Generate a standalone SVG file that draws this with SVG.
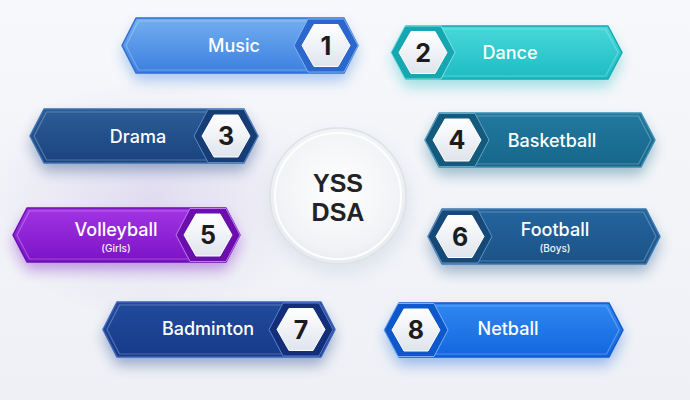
<svg xmlns="http://www.w3.org/2000/svg" width="690" height="400" viewBox="0 0 690 400">
<defs>
<style>
.lbl{font-family:Inter,"Liberation Sans",Arial,sans-serif;font-size:18px;font-weight:500;fill:#ffffff;text-anchor:middle}
.sub{font-family:Inter,"Liberation Sans",Arial,sans-serif;font-size:10px;font-weight:500;fill:#f2f2f8;text-anchor:middle}
.num{font-family:Inter,"Liberation Sans",Arial,sans-serif;font-size:25px;font-weight:700;fill:#1c1c1f;text-anchor:middle}
.ctr{font-family:"Liberation Sans",Arial,sans-serif;font-size:25px;font-weight:700;fill:#222326;text-anchor:middle}
.rim{fill:none;stroke:#ffffff;stroke-opacity:0.25;stroke-width:1.2;stroke-linejoin:round}
.shadow{filter:url(#blur);opacity:0.4}
.wh{fill:url(#gW);stroke:#ffffff;stroke-width:1;stroke-linejoin:round}
</style>
<filter id="blur" x="-30%" y="-60%" width="160%" height="220%"><feGaussianBlur stdDeviation="7"/></filter>
<filter id="blurC" x="-40%" y="-40%" width="180%" height="180%"><feGaussianBlur stdDeviation="8"/></filter>
<linearGradient id="bg" x1="0" y1="0" x2="0" y2="1"><stop offset="0" stop-color="#f7f8fb"/><stop offset="1" stop-color="#eef0f5"/></linearGradient>
<radialGradient id="lav" cx="0.5" cy="0.5" r="0.5"><stop offset="0" stop-color="#dcd6ee" stop-opacity="0.8"/><stop offset="1" stop-color="#dcd6ee" stop-opacity="0"/></radialGradient>
<linearGradient id="gW" x1="0" y1="0" x2="0" y2="1"><stop offset="0" stop-color="#ffffff"/><stop offset="1" stop-color="#dfe4ec"/></linearGradient>
<linearGradient id="g1" x1="0" y1="0" x2="0" y2="1"><stop offset="0" stop-color="#74aef0"/><stop offset="1" stop-color="#3b80e0"/></linearGradient>
<linearGradient id="g2" x1="0" y1="0" x2="0" y2="1"><stop offset="0" stop-color="#48d8da"/><stop offset="1" stop-color="#1cbcc3"/></linearGradient>
<linearGradient id="g3" x1="0" y1="0" x2="0" y2="1"><stop offset="0" stop-color="#2c5c96"/><stop offset="1" stop-color="#1a447f"/></linearGradient>
<linearGradient id="g4" x1="0" y1="0" x2="0" y2="1"><stop offset="0" stop-color="#22799f"/><stop offset="1" stop-color="#16668a"/></linearGradient>
<linearGradient id="g5" x1="0" y1="0" x2="0" y2="1"><stop offset="0" stop-color="#a235e4"/><stop offset="1" stop-color="#7a12c6"/></linearGradient>
<linearGradient id="g6" x1="0" y1="0" x2="0" y2="1"><stop offset="0" stop-color="#25649e"/><stop offset="1" stop-color="#1a5387"/></linearGradient>
<linearGradient id="g7" x1="0" y1="0" x2="0" y2="1"><stop offset="0" stop-color="#224b9c"/><stop offset="1" stop-color="#163a8a"/></linearGradient>
<linearGradient id="g8" x1="0" y1="0" x2="0" y2="1"><stop offset="0" stop-color="#3088f0"/><stop offset="1" stop-color="#1266de"/></linearGradient>
<radialGradient id="gC" cx="0.5" cy="0.45" r="0.55"><stop offset="0" stop-color="#ffffff"/><stop offset="0.8" stop-color="#f2f3f6"/><stop offset="1" stop-color="#e6e9ef"/></radialGradient>
<path id="hexR" d="M-32,0 L-18,-26.5 L18,-26.5 L32,0 L18,26.5 L-18,26.5 Z"/>
<path id="hexW" d="M-24,0 L-12,-21 L12,-21 L24,0 L12,21 L-12,21 Z"/>
</defs>

<rect width="690" height="400" fill="url(#bg)"/>
<ellipse cx="150" cy="200" rx="170" ry="120" fill="url(#lav)"/>

<g id="center">
<circle cx="340" cy="204" r="70" fill="#c9d0dc" opacity="0.45" filter="url(#blurC)"/>
<circle cx="338" cy="196" r="68" fill="url(#gC)" stroke="#dde1e8" stroke-width="1.5"/>
<circle cx="338" cy="196" r="63" fill="none" stroke="#ffffff" stroke-width="2" opacity="0.9"/>
<text class="ctr" x="338" y="192">YSS</text>
<text class="ctr" x="338" y="221">DSA</text>
</g>

<g id="node-1">
<path class="shadow" fill="#3b80e0" transform="translate(0,8)" d="M122,45.5 L136,18 L344,18 L358,45.5 L344,73 L136,73Z"/>
<path fill="url(#g1)" stroke="#2e6fd2" stroke-width="1.5" stroke-linejoin="round" d="M122,45.5 L136,18 L344,18 L358,45.5 L344,73 L136,73Z"/>
<path class="rim" d="M126,45.5 L138.5,21 L341.5,21 L354,45.5 L341.5,70 L138.5,70Z"/>
<use href="#hexR" x="326" y="45.5" fill="#2b67cc" stroke="#7fb3f2" stroke-width="1"/>
<use href="#hexW" x="326" y="45.5" class="wh"/>
<text class="num" x="326" y="54.5">1</text>
<text class="lbl" x="234" y="52">Music</text>
</g>

<g id="node-2">
<path class="shadow" fill="#1cbcc3" transform="translate(0,8)" d="M392,52.5 L406,26 L608,26 L622,52.5 L608,79 L406,79Z"/>
<path fill="url(#g2)" stroke="#17a9b1" stroke-width="1.5" stroke-linejoin="round" d="M392,52.5 L406,26 L608,26 L622,52.5 L608,79 L406,79Z"/>
<path class="rim" d="M396,52.5 L408.5,29 L605.5,29 L618,52.5 L605.5,76 L408.5,76Z"/>
<use href="#hexR" x="423" y="52.5" fill="#16a7b0" stroke="#7fe3e6" stroke-width="1"/>
<use href="#hexW" x="423" y="52.5" class="wh"/>
<text class="num" x="423" y="61.5">2</text>
<text class="lbl" x="510" y="59">Dance</text>
</g>

<g id="node-3">
<path class="shadow" fill="#1a447f" transform="translate(0,8)" d="M30,136 L44,109 L244,109 L258,136 L244,163 L44,163Z"/>
<path fill="url(#g3)" stroke="#3a6fb0" stroke-width="1.5" stroke-linejoin="round" d="M30,136 L44,109 L244,109 L258,136 L244,163 L44,163Z"/>
<path class="rim" d="M34,136 L46.5,112 L241.5,112 L254,136 L241.5,160 L46.5,160Z"/>
<use href="#hexR" x="226" y="136" fill="#163d76" stroke="#5b88c2" stroke-width="1"/>
<use href="#hexW" x="226" y="136" class="wh"/>
<text class="num" x="226" y="145">3</text>
<text class="lbl" x="138" y="142.5">Drama</text>
</g>

<g id="node-4">
<path class="shadow" fill="#16668a" transform="translate(0,8)" d="M425,140 L439,113 L641,113 L655,140 L641,167 L439,167Z"/>
<path fill="url(#g4)" stroke="#3b8fb3" stroke-width="1.5" stroke-linejoin="round" d="M425,140 L439,113 L641,113 L655,140 L641,167 L439,167Z"/>
<path class="rim" d="M429,140 L441.5,116 L638.5,116 L651,140 L638.5,164 L441.5,164Z"/>
<use href="#hexR" x="457" y="140" fill="#135a7c" stroke="#62a6c4" stroke-width="1"/>
<use href="#hexW" x="457" y="140" class="wh"/>
<text class="num" x="457" y="149">4</text>
<text class="lbl" x="552" y="146.5">Basketball</text>
</g>

<g id="node-5">
<path class="shadow" fill="#7a12c6" transform="translate(0,8)" d="M13,235 L27,208 L226,208 L240,235 L226,262 L27,262Z"/>
<path fill="url(#g5)" stroke="#6a0fb0" stroke-width="1.5" stroke-linejoin="round" d="M13,235 L27,208 L226,208 L240,235 L226,262 L27,262Z"/>
<path class="rim" d="M17,235 L29.5,211 L223.5,211 L236,235 L223.5,259 L29.5,259Z"/>
<use href="#hexR" x="208" y="235" fill="#6a0eae" stroke="#c07bef" stroke-width="1"/>
<use href="#hexW" x="208" y="235" class="wh"/>
<text class="num" x="208" y="244">5</text>
<text class="lbl" x="116" y="236">Volleyball</text>
<text class="sub" x="116" y="252">(Girls)</text>
</g>

<g id="node-6">
<path class="shadow" fill="#1a5387" transform="translate(0,8)" d="M428,236.5 L442,209 L646,209 L660,236.5 L646,264 L442,264Z"/>
<path fill="url(#g6)" stroke="#3a78b0" stroke-width="1.5" stroke-linejoin="round" d="M428,236.5 L442,209 L646,209 L660,236.5 L646,264 L442,264Z"/>
<path class="rim" d="M432,236.5 L444.5,212 L643.5,212 L656,236.5 L643.5,261 L444.5,261Z"/>
<use href="#hexR" x="460" y="236.5" fill="#164878" stroke="#5f95c6" stroke-width="1"/>
<use href="#hexW" x="460" y="236.5" class="wh"/>
<text class="num" x="460" y="245.5">6</text>
<text class="lbl" x="555" y="236">Football</text>
<text class="sub" x="555" y="252">(Boys)</text>
</g>

<g id="node-7">
<path class="shadow" fill="#163a8a" transform="translate(0,8)" d="M103,329.5 L117,302 L321,302 L335,329.5 L321,357 L117,357Z"/>
<path fill="url(#g7)" stroke="#3a63b8" stroke-width="1.5" stroke-linejoin="round" d="M103,329.5 L117,302 L321,302 L335,329.5 L321,357 L117,357Z"/>
<path class="rim" d="M107,329.5 L119.5,305 L318.5,305 L331,329.5 L318.5,354 L119.5,354Z"/>
<use href="#hexR" x="301" y="329.5" fill="#132f7a" stroke="#5a7fcc" stroke-width="1"/>
<use href="#hexW" x="301" y="329.5" class="wh"/>
<text class="num" x="301" y="338.5">7</text>
<text class="lbl" x="208" y="335">Badminton</text>
</g>

<g id="node-8">
<path class="shadow" fill="#1266de" transform="translate(0,8)" d="M385,330 L399,303 L609,303 L623,330 L609,357 L399,357Z"/>
<path fill="url(#g8)" stroke="#1058cc" stroke-width="1.5" stroke-linejoin="round" d="M385,330 L399,303 L609,303 L623,330 L609,357 L399,357Z"/>
<path class="rim" d="M389,330 L401.5,306 L606.5,306 L619,330 L606.5,354 L401.5,354Z"/>
<use href="#hexR" x="416" y="330" fill="#0f58cc" stroke="#7ab0f5" stroke-width="1"/>
<use href="#hexW" x="416" y="330" class="wh"/>
<text class="num" x="416" y="339">8</text>
<text class="lbl" x="508" y="335">Netball</text>
</g>

<g id="connectors"></g>
</svg>
